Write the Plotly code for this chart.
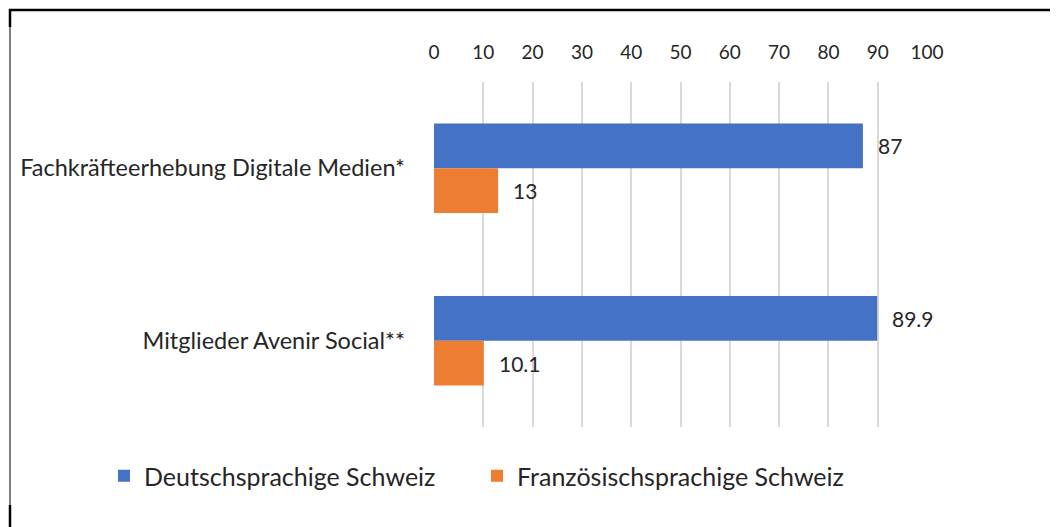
import plotly.graph_objects as go

categories = ["Fachkräfteerhebung Digitale Medien*", "Mitglieder Avenir Social**"]
series_names = ["Deutschsprachige Schweiz", "Französischsprachige Schweiz"]
deutsch = [87, 89.9]
franz = [13, 10.1]
colors = ["#4472C4", "#ED7D31"]
tick_vals = [0, 10, 20, 30, 40, 50, 60, 70, 80, 90, 100]

# page body has an 8px margin; reference pixel coords are shifted by it
O = 8
W, H = 1058 - O, 527 - O
L, R, T, B = 434 - O, 1058 - 927, 82 - O, 527 - 427
pw, ph = W - L - R, H - T - B

def px(x):
    return (x - O - L) / pw

def py(y):
    return (H - B - (y - O)) / ph

FONT = "Lato"
TXT = "#262626"

fig = go.Figure()
for name, vals, col in zip(series_names, [deutsch, franz], colors):
    fig.add_trace(go.Bar(
        y=categories, x=vals, name=name, orientation="h",
        marker=dict(color=col, line=dict(width=0)),
    ))

annotations = []
for si, vals in enumerate([deutsch, franz]):
    for ci, v in enumerate(vals):
        annotations.append(dict(
            x=v, y=ci, xref="x", yref="y", text=str(v), showarrow=False,
            xanchor="left", yanchor="middle", xshift=13,
            yshift=(22.5 if si == 0 else -22.5),
            font=dict(family=FONT, size=21, color=TXT),
        ))

shapes = [
    dict(type="line", xref="paper", yref="paper", x0=px(9), x1=px(1060), y0=py(10), y1=py(10),
         line=dict(color="black", width=2.5)),
    dict(type="line", xref="paper", yref="paper", x0=px(10), x1=px(10), y0=py(9), y1=py(530),
         line=dict(color="black", width=1)),
    dict(type="line", xref="paper", yref="paper", x0=px(10), x1=px(10), y0=py(9), y1=py(27),
         line=dict(color="black", width=2.5)),
    dict(type="line", xref="paper", yref="paper", x0=px(10), x1=px(10), y0=py(505), y1=py(530),
         line=dict(color="black", width=2.5)),
]

fig.update_layout(
    width=W, height=H,
    margin=dict(l=L, r=R, t=T, b=B, pad=0),
    paper_bgcolor="white", plot_bgcolor="white",
    barmode="group", bargap=0.48, bargroupgap=0,
    font=dict(family=FONT, color=TXT),
    xaxis=dict(side="top", range=[0, 100], tickvals=tick_vals, showgrid=True,
               gridcolor="#d9d9d9", gridwidth=1.5, zeroline=False, showline=False,
               ticks="", ticklabelstandoff=18, tickfont=dict(family=FONT, size=19, color=TXT)),
    yaxis=dict(autorange="reversed", showgrid=False, zeroline=False, showline=False,
               ticks="", ticklabelstandoff=28, tickfont=dict(family=FONT, size=23.5, color=TXT)),
    legend=dict(orientation="h", x=px(104), y=py(453), xanchor="left", yanchor="top",
                font=dict(family=FONT, size=25, color=TXT),
                entrywidth=328, entrywidthmode="pixels", traceorder="normal"),
    annotations=annotations,
    shapes=shapes,
)

fig.write_html("out.html")
